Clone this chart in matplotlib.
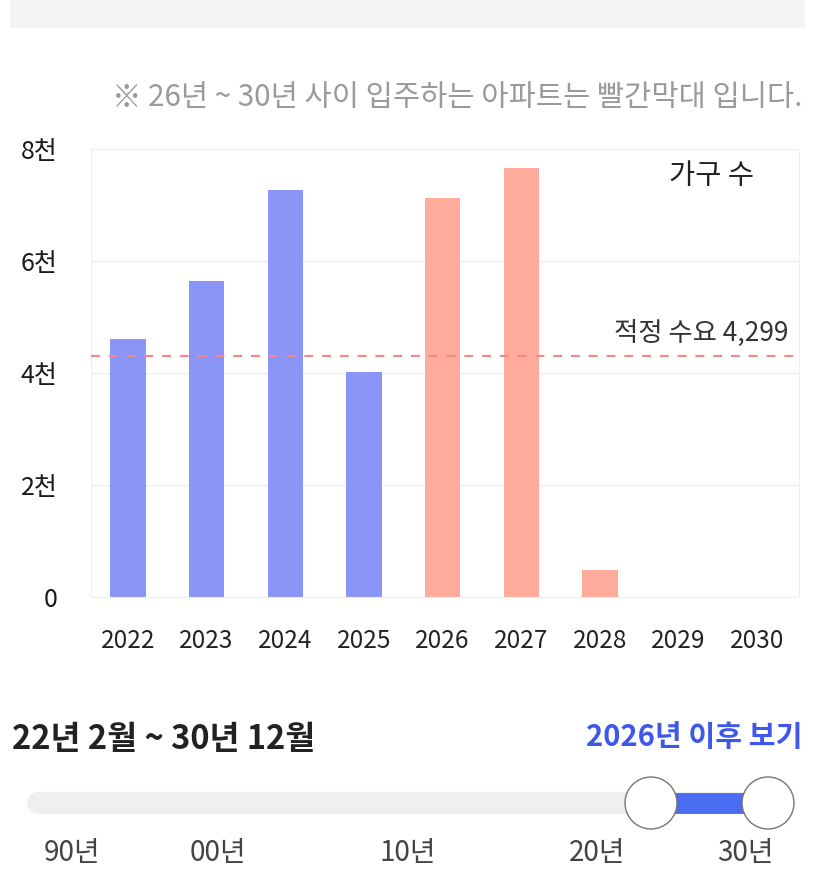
import numpy as np
import matplotlib.pyplot as plt
from matplotlib.patches import Rectangle, Circle

plt.rcParams['font.family'] = ['Noto Sans CJK KR', 'DejaVu Sans']

years = ['2022', '2023', '2024', '2025', '2026', '2027', '2028', '2029', '2030']
households = [4615, 5650, 7260, 4010, 7120, 7660, 480, 0, 0]
is_future = [False, False, False, False, True, True, True, True, True]
demand = 4299
ytick_vals = [0, 2000, 4000, 6000, 8000]
ytick_text = ['0', '2천', '4천', '6천', '8천']
slider_labels = ['90년', '00년', '10년', '20년', '30년']
slider_label_x = [72, 218, 408, 597, 745]

W, H = 827, 886
fig = plt.figure(figsize=(W / 100, H / 100), dpi=100)

# pixel overlay for page decorations
bg = fig.add_axes([0, 0, 1, 1])
bg.set_xlim(0, W); bg.set_ylim(H, 0); bg.axis('off')
bg.add_patch(Rectangle((10, 0), 795, 28, color='#f4f4f4', lw=0))
bg.text(802, 97, '※ 26년 ~ 30년 사이 입주하는 아파트는 빨간막대 입니다.',
        ha='right', va='center', fontsize=21.3, color='#9a9a9a')

# main bar chart
ax = fig.add_axes([91 / W, (H - 597) / H, 708 / W, 448 / H])
x = np.arange(len(years))
colors = ['#ffab9b' if f else '#8b95f7' for f in is_future]
ax.bar(x, households, width=0.45, color=colors, zorder=2)
ax.set_xlim(-0.47, len(years) - 0.47)
ax.set_ylim(0, 8000)
ax.set_yticks(ytick_vals)
ax.set_yticklabels(ytick_text, fontsize=18, color='#1a1a1a', fontweight='medium')
ax.set_xticks(x)
ax.set_xticklabels(years, fontsize=17.5, color='#222')
ax.tick_params(axis='y', length=0, pad=24)
ax.tick_params(axis='x', length=0, pad=22)
ax.grid(axis='y', color='#efefef', lw=1, zorder=0)
for s in ax.spines.values():
    s.set_color('#efefef')
ax.axhline(demand, color='#ee8a8a', lw=1.6, ls=(0, (4, 4)), zorder=3)
ax.text(0.985, demand + 400, f'적정 수요 {demand:,}', transform=ax.get_yaxis_transform(),
        ha='right', va='center', fontsize=19, color='#333')
ax.text(0.876, 0.94, '가구 수', transform=ax.transAxes, ha='center', va='center',
        fontsize=20.5, color='#222')

# range selector
bg.text(12, 739, '22년 2월 ~ 30년 12월', ha='left', va='center',
        fontsize=23.5, fontweight='bold', color='#222')
bg.text(802, 737, '2026년 이후 보기', ha='right', va='center',
        fontsize=21, fontweight='bold', color='#3f57ea')
bg.plot([38, 780], [803, 803], color='#efeff2', lw=16, solid_capstyle='round', zorder=1)
bg.plot([655, 768], [803, 803], color='#4a6cf0', lw=15, solid_capstyle='butt', zorder=2)
for cx in [651, 768]:
    bg.add_patch(Circle((cx, 803), 26, facecolor='white', edgecolor='#777', lw=1, zorder=3))
for lbl, lx in zip(slider_labels, slider_label_x):
    bg.text(lx, 853, lbl, ha='center', va='center', fontsize=20, color='#444')

fig.savefig('out.png', dpi=100)
